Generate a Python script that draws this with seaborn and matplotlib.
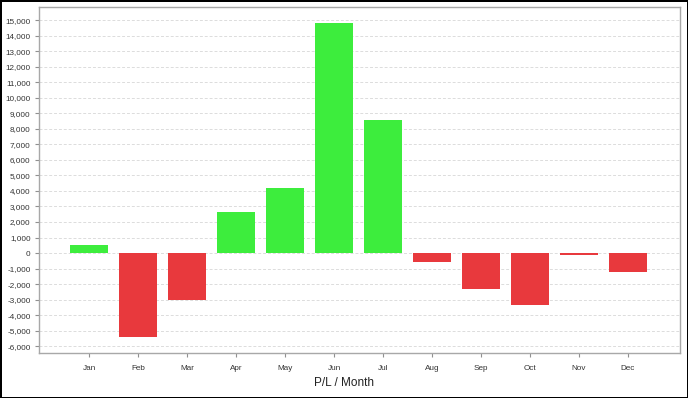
import matplotlib
matplotlib.use("Agg")
import matplotlib.pyplot as plt
import matplotlib.ticker as mticker
import pandas as pd
import numpy as np
import seaborn as sns

sns.set_style("white")
plt.rcParams['font.family'] = ['Liberation Sans', 'DejaVu Sans']

# monthly profit / loss
months = ["Jan", "Feb", "Mar", "Apr", "May", "Jun",
          "Jul", "Aug", "Sep", "Oct", "Nov", "Dec"]
pl = [500, -5390, -3030, 2640, 4180, 14830,
      8560, -600, -2320, -3370, -110, -1240]
y_ticks = list(range(-6000, 16000, 1000))

df = pd.DataFrame({"month": months, "pl": pl})
green = "#3ded3d"
red = "#e8393d"
colors = [green if v >= 0 else red for v in df.pl]

fig = plt.figure(figsize=(6.88, 3.98), dpi=100)
ax = fig.add_axes([39 / 688, 1 - 353 / 398, (680 - 39) / 688, (353 - 7) / 398])

sns.barplot(data=df, x="month", y="pl", hue="month", palette=colors,
            legend=False, width=0.76, saturation=1, ax=ax,
            linewidth=0, zorder=3)

ax.set_xlim(-1.02, 12.06)
ax.set_ylim(-6440, 15850)
ax.set_yticks(y_ticks)
ax.yaxis.set_major_formatter(mticker.FuncFormatter(lambda v, p: "{:,.0f}".format(v)))
ax.grid(axis="y", color="#dcdcdc", linestyle=(0, (3, 2)), linewidth=0.7, zorder=0)
ax.set_axisbelow(True)

for s in ax.spines.values():
    s.set_color("#a8a8a8")
    s.set_linewidth(1)

# seaborn's white style switches tick marks off, turn them back on
ax.tick_params(axis="both", bottom=True, left=True, labelsize=5.9,
               labelcolor="#333333", length=3, width=0.8, direction="out",
               pad=3, color="#909090")
ax.tick_params(axis="x", pad=6)
ax.set_xlabel("")
ax.set_ylabel("")

fig.text(0.5, 1 - 383 / 398, "P/L / Month", ha="center", va="center",
         fontsize=8.5, color="#222222")

fig.patch.set_edgecolor("black")
fig.patch.set_linewidth(2)

fig.savefig("out.png", dpi=100, edgecolor=fig.get_edgecolor())
